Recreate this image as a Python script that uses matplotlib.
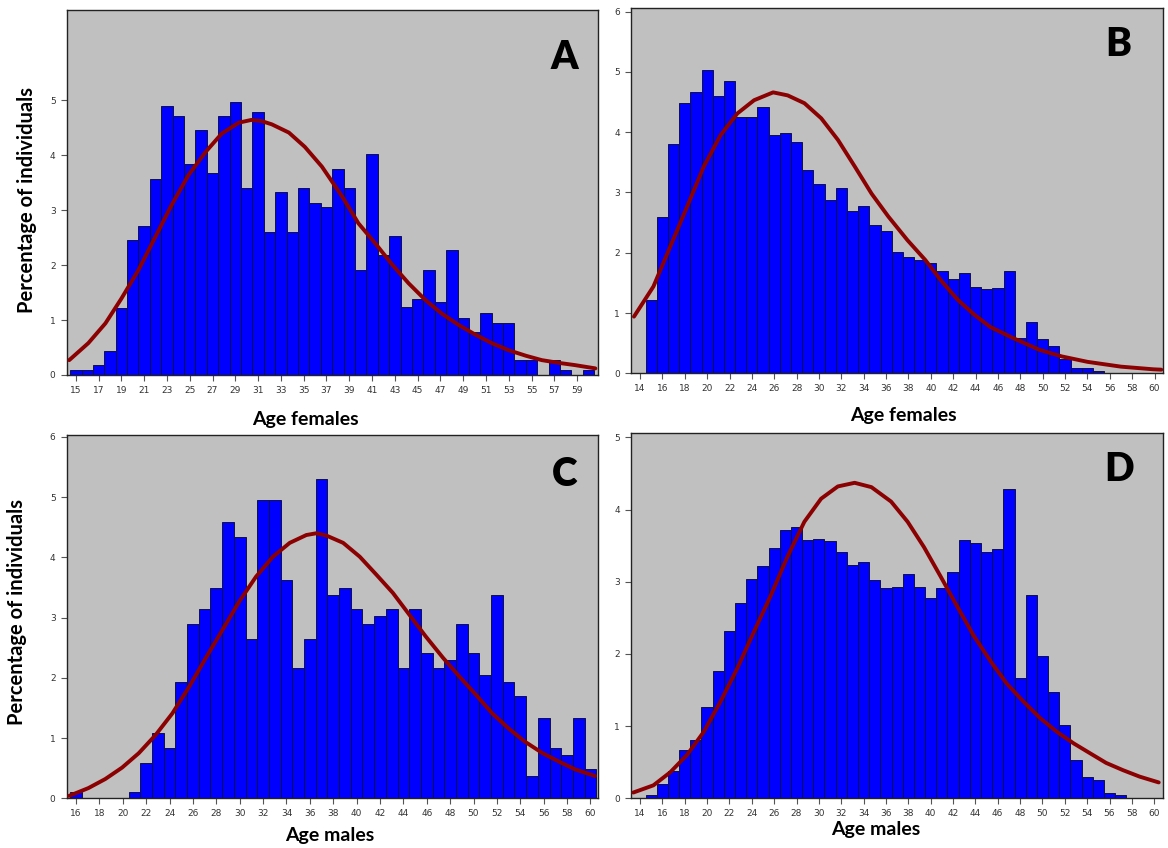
import numpy as np
import matplotlib
matplotlib.use("Agg")
from matplotlib import pyplot as plt

# bar heights (% of individuals) per year of age
ages_a = list(range(15, 61))
pct_a = [0.09, 0.09, 0.18, 0.44, 1.22, 2.45, 2.71, 3.57, 4.89, 4.71,
         3.84, 4.45, 3.67, 4.71, 4.97, 3.41, 4.79, 2.61, 3.32, 2.61,
         3.41, 3.13, 3.05, 3.75, 3.41, 1.91, 4.02, 2.18, 2.53, 1.23,
         1.39, 1.91, 1.32, 2.27, 1.04, 0.79, 1.13, 0.95, 0.95, 0.27,
         0.27, 0.0, 0.27, 0.09, 0.0, 0.09]

ages_b = list(range(15, 61))
pct_b = [1.21, 2.60, 3.80, 4.48, 4.67, 5.03, 4.60, 4.85, 4.25, 4.25,
         4.41, 3.96, 3.99, 3.83, 3.37, 3.14, 2.87, 3.07, 2.70, 2.77,
         2.46, 2.36, 2.02, 1.93, 1.88, 1.83, 1.70, 1.57, 1.66, 1.43,
         1.39, 1.41, 1.70, 0.58, 0.85, 0.57, 0.45, 0.24, 0.09, 0.08,
         0.03, 0.01, 0.01, 0.005, 0.0, 0.0]

ages_c = list(range(16, 61))
pct_c = [0.11, 0.0, 0.0, 0.0, 0.0, 0.11, 0.59, 1.08, 0.84, 1.93,
         2.90, 3.15, 3.49, 4.58, 4.34, 2.65, 4.95, 4.95, 3.62, 2.17,
         2.65, 5.30, 3.37, 3.49, 3.14, 2.90, 3.02, 3.14, 2.17, 3.14,
         2.41, 2.17, 2.29, 2.90, 2.41, 2.05, 3.37, 1.93, 1.69, 0.37,
         1.33, 0.84, 0.72, 1.33, 0.48]

ages_d = list(range(15, 61))
pct_d = [0.05, 0.20, 0.38, 0.67, 0.81, 1.26, 1.77, 2.32, 2.71, 3.04,
         3.22, 3.47, 3.71, 3.76, 3.58, 3.59, 3.57, 3.41, 3.23, 3.27,
         3.02, 2.91, 2.92, 3.11, 2.93, 2.78, 2.91, 3.14, 3.58, 3.54,
         3.41, 3.45, 4.28, 1.66, 2.82, 1.97, 1.47, 1.02, 0.53, 0.30,
         0.25, 0.07, 0.05, 0.0, 0.01, 0.0]

# fitted curves
fit_a_x = [14.42, 16.1, 17.6, 19.0, 20.5, 22.0, 23.4, 24.9, 26.4, 27.8, 29.3,
           30.4, 31.3, 32.2, 33.7, 35.1, 36.6, 38.4, 39.8, 41.3, 42.8, 44.2,
           45.7, 47.1, 48.6, 50.1, 51.5, 53.0, 54.5, 55.9, 57.4, 58.8, 60.6]
fit_a_y = [0.27, 0.58, 0.94, 1.39, 1.91, 2.52, 3.09, 3.64, 4.06, 4.39, 4.59,
           4.64, 4.62, 4.56, 4.41, 4.15, 3.79, 3.24, 2.76, 2.39, 2.00, 1.67,
           1.36, 1.12, 0.91, 0.73, 0.58, 0.45, 0.35, 0.27, 0.22, 0.18, 0.12]

fit_b_x = [13.46, 15.2, 16.7, 18.2, 19.7, 21.2, 22.7, 24.2, 25.9, 27.2, 28.7,
           30.2, 31.7, 33.2, 34.7, 36.2, 37.9, 39.5, 41.0, 42.4, 43.9, 45.3,
           47.4, 49.7, 51.7, 54.0, 57.0, 59.9, 60.6]
fit_b_y = [0.94, 1.44, 2.10, 2.76, 3.43, 3.95, 4.31, 4.53, 4.66, 4.61, 4.48,
           4.23, 3.87, 3.43, 2.98, 2.60, 2.21, 1.88, 1.52, 1.22, 0.97, 0.77,
           0.58, 0.39, 0.28, 0.19, 0.11, 0.066, 0.06]

fit_c_x = [15.4, 17.06, 18.5, 19.94, 21.37, 22.8, 24.24, 25.67, 27.1, 28.54,
           29.97, 31.4, 32.84, 34.28, 35.7, 36.57, 37.43, 38.85, 40.27, 41.7,
           43.1, 44.5, 45.9, 47.4, 48.8, 50.2, 51.6, 53.0, 54.4, 55.9, 57.3,
           58.7, 60.4]
fit_c_y = [0.04, 0.17, 0.32, 0.51, 0.75, 1.05, 1.41, 1.85, 2.33, 2.80,
           3.27, 3.68, 4.01, 4.24, 4.37, 4.40, 4.36, 4.24, 4.01, 3.71,
           3.41, 3.05, 2.69, 2.33, 2.02, 1.72, 1.41, 1.16, 0.94, 0.75, 0.61,
           0.48, 0.37]

fit_d_x = [13.4, 15.2, 16.7, 18.2, 19.7, 21.2, 22.7, 24.2, 25.7, 27.2, 28.7,
           30.2, 31.7, 33.2, 34.7, 36.46, 37.94, 39.4, 40.9, 42.4, 43.9, 45.4,
           46.8, 48.3, 49.8, 51.3, 52.8, 54.3, 55.7, 57.2, 58.7, 60.4]
fit_d_y = [0.08, 0.18, 0.36, 0.60, 0.92, 1.34, 1.80, 2.31, 2.81, 3.35, 3.83,
           4.15, 4.32, 4.37, 4.31, 4.11, 3.83, 3.48, 3.07, 2.65, 2.24, 1.89,
           1.59, 1.34, 1.11, 0.92, 0.76, 0.62, 0.49, 0.39, 0.30, 0.22]

ticks_a = list(range(15, 60, 2))
ticks_b = list(range(14, 61, 2))
ticks_c = list(range(16, 61, 2))
ticks_d = list(range(14, 61, 2))

BOLD = ["Lato", "DejaVu Sans"]


def panel(ax, ages, pct, fx, fy, xlim, ylim, xticks, yticks, letter, lpos):
    ax.set_facecolor("#c0c0c0")
    ax.bar(ages, pct, width=1.0, color="#0000ff", edgecolor="#10104a",
           linewidth=0.7, zorder=2)
    ax.plot(fx, fy, color="#8b0000", linewidth=2.8, zorder=3,
            solid_capstyle="round", solid_joinstyle="round")
    ax.set_xlim(*xlim)
    ax.set_ylim(*ylim)
    ax.set_xticks(xticks)
    ax.set_yticks(yticks)
    ax.tick_params(direction="out", length=4, width=0.8, color="#555555",
                   labelsize=6.5, labelcolor="#333333", pad=4)
    for s in ax.spines.values():
        s.set_linewidth(1.0)
        s.set_color("#222222")
    ax.text(lpos[0], lpos[1], letter, transform=ax.transAxes, ha="center",
            va="center", fontsize=28, fontweight="heavy", family=BOLD)


fig = plt.figure(figsize=(11.68, 8.48), dpi=100)
fig.patch.set_facecolor("white")

ax_a = fig.add_axes([0.0571, 0.5578, 0.4546, 0.4304])
ax_b = fig.add_axes([0.5402, 0.5598, 0.4552, 0.4308])
ax_c = fig.add_axes([0.0571, 0.0586, 0.4549, 0.4284])
ax_d = fig.add_axes([0.5402, 0.0586, 0.4552, 0.4308])

panel(ax_a, ages_a, pct_a, fit_a_x, fit_a_y, (14.2, 60.8), (0, 6.64),
      ticks_a, range(0, 6), "A", (0.938, 0.871))
panel(ax_b, ages_b, pct_b, fit_b_x, fit_b_y, (13.19, 60.72), (0, 6.06),
      ticks_b, range(0, 7), "B", (0.916, 0.899))
panel(ax_c, ages_c, pct_c, fit_c_x, fit_c_y, (15.2, 60.65), (0, 6.03),
      ticks_c, range(0, 7), "C", (0.938, 0.89))
panel(ax_d, ages_d, pct_d, fit_d_x, fit_d_y, (13.19, 60.75), (0, 5.06),
      ticks_d, range(0, 6), "D", (0.919, 0.899))

# axis titles
W, H = 1168.0, 848.0
lab = dict(fontweight="bold", family=BOLD, ha="center", va="center")
fig.text(305 / W, 1 - 420 / H, "Age females", fontsize=14, **lab)
fig.text(903 / W, 1 - 416 / H, "Age females", fontsize=14, **lab)
fig.text(330 / W, 1 - 835 / H, "Age males", fontsize=14, **lab)
fig.text(876 / W, 1 - 830 / H, "Age males", fontsize=14, **lab)
fig.text(27 / W, 1 - 200 / H, "Percentage of individuals", rotation=90,
         fontsize=14.5, **lab)
fig.text(17 / W, 1 - 612 / H, "Percentage of individuals", rotation=90,
         fontsize=14.5, **lab)

plt.savefig("out.png", dpi=100)
